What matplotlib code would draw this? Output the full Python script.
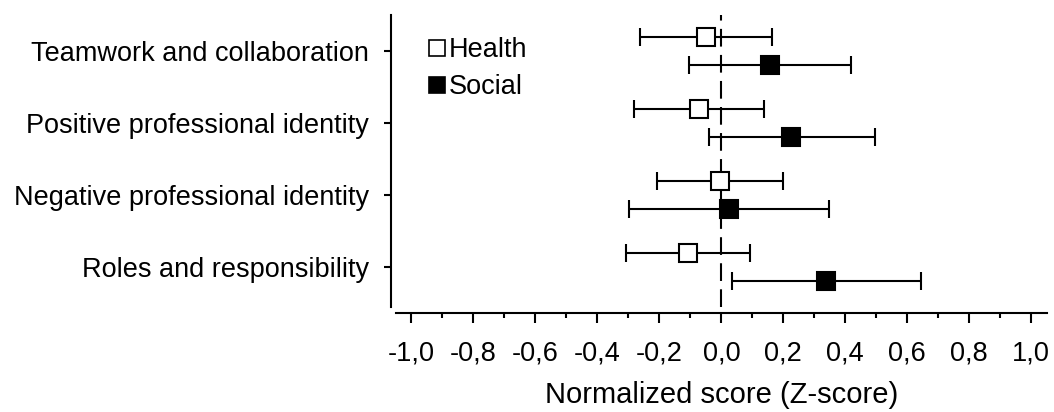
import matplotlib
matplotlib.use("Agg")
import matplotlib.pyplot as plt
from matplotlib.lines import Line2D
from matplotlib.ticker import MultipleLocator
import numpy as np

plt.rcParams['font.family'] = ['Liberation Sans', 'DejaVu Sans']

# ---- dados
categorias = ["Teamwork and collaboration", "Positive professional identity",
              "Negative professional identity", "Roles and responsibility"]

health_media = [-0.050, -0.071, -0.005, -0.109]
health_inf = [-0.262, -0.281, -0.207, -0.309]
health_sup = [0.164, 0.137, 0.198, 0.091]

social_media = [0.158, 0.226, 0.024, 0.339]
social_inf = [-0.105, -0.041, -0.299, 0.034]
social_sup = [0.419, 0.497, 0.346, 0.644]

xticks = [-1.0, -0.8, -0.6, -0.4, -0.2, 0.0, 0.2, 0.4, 0.6, 0.8, 1.0]
xtick_labels = ["-1,0", "-0,8", "-0,6", "-0,4", "-0,2", "0,0",
                "0,2", "0,4", "0,6", "0,8", "1,0"]

W, H = 1054, 412
fig = plt.figure(figsize=(W / 100, H / 100), dpi=100)
ax = fig.add_axes([396 / W, 1 - 307 / H, (1046.7 - 396) / W, (307 - 15) / H])

y = np.arange(len(categorias))
desloc = 0.2
fs = 19.5

# linha de referencia em zero
ax.axvline(0, color='black', lw=1.5, linestyle=(0, (8.5, 4)), zorder=1)

def plot_grupo(media, inf, sup, pos, cor):
    media = np.array(media)
    erro = [media - np.array(inf), np.array(sup) - media]
    ax.errorbar(media, pos, xerr=erro, fmt='s', color='black', ecolor='black',
                elinewidth=1.5, capsize=6.5, capthick=1.5,
                markersize=12.5, markerfacecolor=cor, markeredgecolor='black',
                markeredgewidth=1.5, zorder=3)

plot_grupo(health_media, health_inf, health_sup, y - desloc, 'white')
plot_grupo(social_media, social_inf, social_sup, y + desloc, 'black')

ax.set_xlim(-1.05, 1.05)
ax.set_ylim(3.556, -0.5)
ax.tick_params(axis='x', which='major', length=7, width=1.5, pad=13, labelsize=fs)
ax.tick_params(axis='x', which='minor', length=3.6, width=1.5)
ax.tick_params(axis='y', length=5, width=1.5, pad=11, labelsize=fs)

ax.set_yticks(y)
ax.set_yticklabels(categorias)
ax.set_xticks(xticks)
ax.set_xticklabels(xtick_labels)
ax.xaxis.set_minor_locator(MultipleLocator(0.1))

ax.spines['top'].set_visible(False)
ax.spines['right'].set_visible(False)
ax.spines['left'].set_position(('outward', 3.6))
ax.spines['bottom'].set_position(('outward', 4.3))
for s in ['left', 'bottom']:
    ax.spines[s].set_linewidth(1.5)

ax.set_xlabel('Normalized score (Z-score)', fontsize=21, labelpad=10)

# legenda
handles = [
    Line2D([], [], marker='s', linestyle='none', markersize=12, markerfacecolor='white',
           markeredgecolor='black', markeredgewidth=1.2),
    Line2D([], [], marker='s', linestyle='none', markersize=12, markerfacecolor='black',
           markeredgecolor='black', markeredgewidth=1.2),
]
ax.legend(handles, ['Health', 'Social'], loc='upper left', frameon=False, fontsize=fs,
          handlelength=0.8, handletextpad=0.05, labelspacing=0.42,
          bbox_to_anchor=(426 / W, 1 - 37 / H), bbox_transform=fig.transFigure,
          borderpad=0, borderaxespad=0)

fig.savefig('out.png', dpi=100)
